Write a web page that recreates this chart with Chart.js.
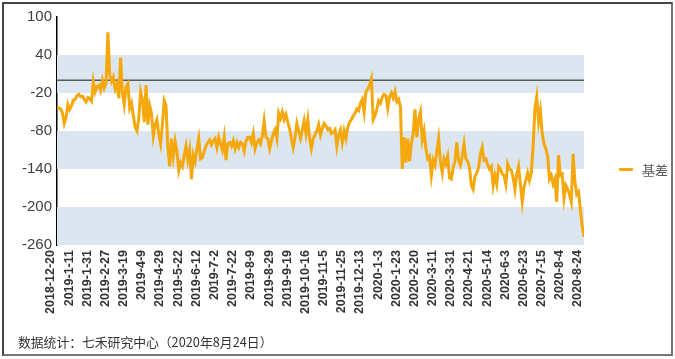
<!DOCTYPE html>
<html>
<head>
<meta charset="utf-8">
<script src="https://cdn.jsdelivr.net/npm/chart.js@4/dist/chart.umd.min.js"></script>
<style>
  html, body { margin: 0; padding: 0; background: #fff; }
  #wrap { position: relative; width: 675px; height: 359px; overflow: hidden; }
  #frame { position: absolute; left: 2px; top: 2px; width: 667px; height: 350px; border: 2px solid #444; border-right-color: #777; border-bottom-color: #777; box-sizing: content-box; pointer-events: none; }
  canvas { position: absolute; left: 0; top: 0; }
  #legend { position: absolute; left: 619px; top: 160px; font-family: "Noto Sans CJK SC", sans-serif; font-size: 13px; color: #595959; display: flex; align-items: center; }
  #legend .sw { width: 14px; height: 3px; background: #F5A80C; margin-right: 9px; border-radius: 1px; }
  #footer { position: absolute; left: 18px; top: 332px; font-family: "Noto Sans CJK SC", "Liberation Sans", sans-serif; font-size: 12.8px; color: #333; }
</style>
</head>
<body>
<div id="wrap">
  <canvas id="c" width="675" height="359"></canvas>
  <div id="frame"></div>
  <div id="legend"><span class="sw"></span><span>基差</span></div>
  <div id="footer">数据统计：七禾研究中心（2020年8月24日）</div>
</div>
<script>
// Tick labels (one every 10 points)
const tickLabels = ["2018-12-20","2019-1-11","2019-1-31","2019-2-27","2019-3-19","2019-4-9","2019-4-29","2019-5-22","2019-6-12","2019-7-2","2019-7-22","2019-8-9","2019-8-29","2019-9-19","2019-10-16","2019-11-5","2019-11-25","2019-12-13","2020-1-3","2020-1-23","2020-2-20","2020-3-11","2020-3-31","2020-4-21","2020-5-14","2020-6-3","2020-6-23","2020-7-15","2020-8-4","2020-8-24"];
const seriesName = "基差";
// Basis values
const basis = [
  -42, -44, -45, -52, -68, -58, -38, -46, -40, -31,
  -30, -24, -22, -26, -25, -30, -34, -27, -29, -33,
  -2, -18, -10, -8, -16, 0, -12, -4, 76, 8,
  -2, 5, -14, -6, -28, 36, -20, -38, -10, -5,
  -44, -36, -56, -74, -80, -60, -18, -30, -66, -8,
  -70, -40, -52, -88, -70, -62, -85, -100, -70, -32,
  -40, -105, -136, -92, -120, -96, -112, -142, -130, -136,
  -118, -104, -126, -110, -156, -118, -128, -108, -92, -124,
  -122, -112, -104, -98, -94, -102, -96, -92, -106, -90,
  -100, -110, -90, -126, -100, -98, -104, -95, -108, -98,
  -106, -98, -100, -112, -96, -90, -90, -98, -84, -108,
  -98, -94, -100, -88, -64, -90, -92, -108, -96, -84,
  -78, -92, -52, -60, -50, -62, -54, -66, -76, -92,
  -106, -90, -68, -80, -92, -78, -64, -84, -62, -92,
  -108, -92, -86, -80, -70, -86, -76, -68, -72, -78,
  -76, -84, -82, -78, -104, -86, -78, -98, -80, -92,
  -74, -66, -62, -56, -52, -45, -48, -36, -30, -50,
  -18, -14, -8, 2, -62, -56, -46, -32, -36, -26,
  -22, -24, -44, -26, -20, -28, -18, -34, -30, -42,
  -140, -90, -130, -92, -128, -100, -84, -46, -90, -62,
  -50, -94, -80, -108, -124, -120, -150, -126, -134, -112,
  -92, -128, -146, -124, -132, -120, -154, -156, -138, -128,
  -98, -126, -134, -120, -100, -124, -128, -138, -166, -172,
  -152, -146, -138, -116, -106, -126, -124, -134, -140, -136,
  -166, -150, -164, -136, -140, -148, -150, -164, -132, -140,
  -142, -154, -172, -148, -136, -164, -192, -168, -158, -146,
  -158, -146, -104, -44, -26, -66, -48, -84, -100, -108,
  -120, -156, -150, -164, -156, -192, -118, -150, -148, -186,
  -166, -172, -180, -192, -116, -160, -180, -176, -204, -230,
  -247
];
const yMin = -260, yMax = 100, yStep = 60;
const labelStep = 10;

const points = basis.map((v, i) => ({ x: i, y: v }));

const bandsPlugin = {
  id: 'bands',
  beforeDatasetsDraw(chart) {
    const { ctx, chartArea, scales } = chart;
    const y = scales.y;
    ctx.save();
    ctx.fillStyle = '#DCE6F1';
    // bands: 40..-20, -80..-140, -200..-260
    for (let top = yMax - yStep; top > yMin; top -= 2 * yStep) {
      const p1 = y.getPixelForValue(top);
      const p2 = y.getPixelForValue(top - yStep);
      ctx.fillRect(chartArea.left, p1, chartArea.right - chartArea.left, p2 - p1);
    }
    // zero line
    const z = y.getPixelForValue(0);
    ctx.strokeStyle = '#595959';
    ctx.lineWidth = 1.5;
    ctx.beginPath();
    ctx.moveTo(chartArea.left, z);
    ctx.lineTo(chartArea.right, z);
    ctx.stroke();
    ctx.restore();
  }
};

new Chart(document.getElementById('c'), {
  type: 'line',
  data: {
    datasets: [{
      label: seriesName,
      data: points,
      borderColor: '#F5A80C',
      borderWidth: 3,
      pointRadius: 0,
      tension: 0,
      fill: false
    }]
  },
  options: {
    responsive: false,
    animation: false,
    devicePixelRatio: 1,
    layout: { padding: { left: 0, top: 17, right: 91, bottom: 0 } },
    plugins: { legend: { display: false }, tooltip: { enabled: false } },
    scales: {
      x: {
        type: 'linear',
        min: 0,
        max: basis.length - 1,
        grid: { display: false, drawTicks: false },
        border: { display: false },
        afterFit(s) { s.height = 114; },
        ticks: {
          stepSize: labelStep,
          autoSkip: false,
          maxRotation: 90,
          minRotation: 90,
          padding: 5,
          labelOffset: -6,
          color: '#333',
          font: { family: 'Liberation Sans, Arial, sans-serif', size: 12.5, weight: 'bold' },
          callback: (v) => tickLabels[Math.round(v / labelStep)] ?? ''
        }
      },
      y: {
        min: yMin,
        max: yMax,
        grid: { display: false, drawTicks: false },
        border: { display: true, color: '#000', width: 1.5 },
        afterFit(s) { s.width = 57; },
        ticks: {
          stepSize: yStep,
          padding: 5,
          color: '#404040',
          font: { family: 'Liberation Sans, Arial, sans-serif', size: 15 }
        }
      }
    }
  },
  plugins: [bandsPlugin]
});
</script>
</body>
</html>
